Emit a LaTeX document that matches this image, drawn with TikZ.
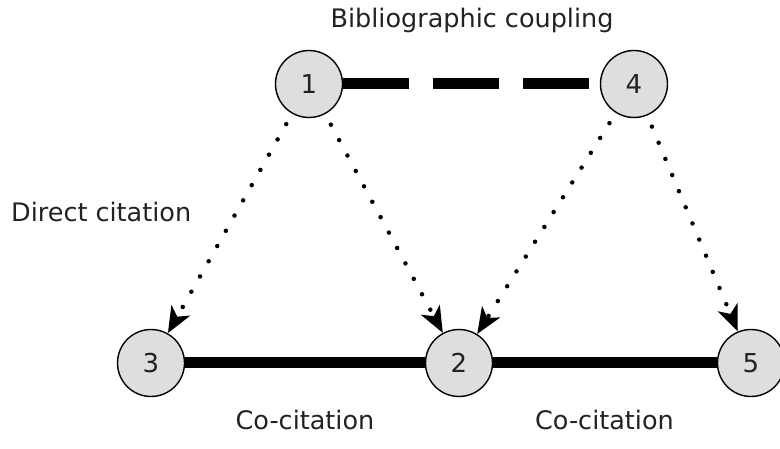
\documentclass[tikz,border=0pt]{standalone}
\usepackage{fontspec}
\setmainfont{DejaVu Sans}
\usetikzlibrary{arrows.meta}
\definecolor{nodefill}{HTML}{DEDEDE}
\definecolor{txt}{HTML}{222222}
\tikzset{
  paper/.style={circle, draw=black, line width=1.4pt, fill=nodefill, minimum size=67pt, inner sep=0pt, font=\fontsize{26}{28}\selectfont, text=txt},
  label text/.style={inner sep=0pt, font=\fontsize{25.5}{28}\selectfont, text=txt},
  cite/.style={line width=4.5pt, line cap=round, dash pattern=on 0pt off 17.5pt, shorten <=12pt,
     -{Stealth[length=26pt,width=21pt,inset=7pt]}},
  coupling/.style={line width=11pt, dash pattern=on 66pt off 24pt},
  cocite/.style={line width=11pt}
}
\begin{document}
\begin{tikzpicture}[x=1pt,y=-1pt]
\useasboundingbox (0,0) rectangle (780,449);
\node[paper] (n1) at (309,84) {1};
\node[paper] (n4) at (634,84) {4};
\node[paper] (n3) at (151,363) {3};
\node[paper] (n2) at (459,363) {2};
\node[paper] (n5) at (751,363) {5};

\draw[coupling] (n1) -- (n4);
\draw[cocite] (n3) -- (n2);
\draw[cocite] (n2) -- (n5);

\draw[cite] (n1) -- (n3);
\draw[cite] (n1) -- (n2);
\draw[cite] (n4) -- (n2);
\draw[cite] (n4) -- (n5);

\node[label text, anchor=base] (lbc) at (472,28) {Bibliographic coupling};
\node[label text, anchor=base west] (ldc) at (11,222) {Direct citation};
\node[label text, anchor=base] (lcc1) at (305,429) {Co-citation};
\node[label text, anchor=base] (lcc2) at (604.5,429) {Co-citation};
\end{tikzpicture}
\end{document}
